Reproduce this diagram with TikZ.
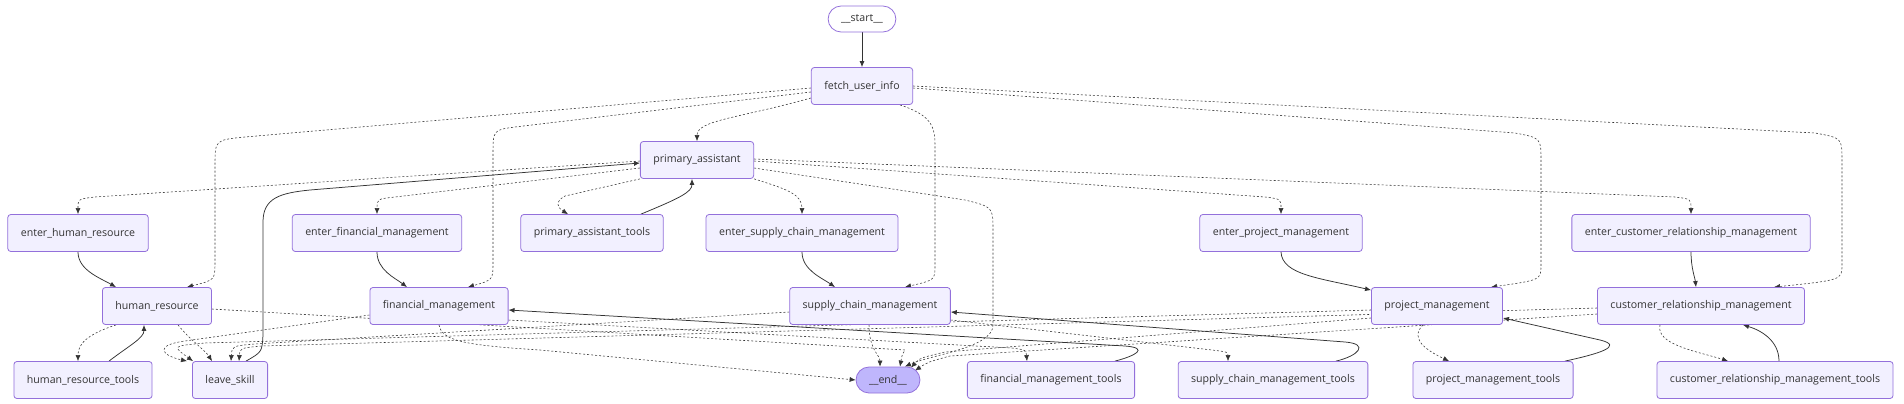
\documentclass[tikz,border=0pt]{standalone}
\usepackage{fontspec}
\setmainfont{Open Sans}
\usetikzlibrary{arrows.meta,backgrounds}
\definecolor{nodefill}{HTML}{F2F0FF}
\definecolor{nodeline}{HTML}{9370DB}
\definecolor{endfill}{HTML}{BFB6FC}
\definecolor{linecol}{HTML}{333333}

\begin{document}
\begin{tikzpicture}[
  x=1pt, y=-1pt,
  box/.style={rectangle,rounded corners=3pt,draw=nodeline,fill=nodefill,line width=0.8pt,
    minimum height=37pt,inner xsep=13pt,font=\fontsize{10.6}{13}\selectfont,text=linecol},
  term/.style={box,rounded corners=13pt,minimum height=26pt},
  flow/.style={draw=linecol,line width=0.75pt,-{Latex[length=6pt,width=5pt]}},
  cond/.style={flow,line width=0.55pt,dash pattern=on 2pt off 2pt}
]
  \useasboundingbox (0,0) rectangle (1904,404);

  \node[term,fill=white] (start) at (862,19) {\_\_start\_\_};
  \node[box] (fetch)  at (862,86)  {fetch\_user\_info};
  \node[box] (prim)   at (697,160) {primary\_assistant};
  \node[box] (ehr)    at (78,233)   {enter\_human\_resource};
  \node[box] (efm)    at (377,233)  {enter\_financial\_management};
  \node[box] (ptools) at (592,233)  {primary\_assistant\_tools};
  \node[box] (escm)   at (802,233)  {enter\_supply\_chain\_management};
  \node[box] (epm)    at (1281,233) {enter\_project\_management};
  \node[box] (ecrm)   at (1691,233) {enter\_customer\_relationship\_management};
  \node[box] (hr)     at (157,306)  {human\_resource};
  \node[box] (fm)     at (439,306)  {financial\_management};
  \node[box] (scm)    at (870,306)  {supply\_chain\_management};
  \node[box] (pm)     at (1437,306) {project\_management};
  \node[box] (crm)    at (1701,306) {customer\_relationship\_management};
  \node[box] (hrt)    at (83,380)   {human\_resource\_tools};
  \node[box] (leave)  at (230,380)  {leave\_skill};
  \node[term,fill=endfill] (stop) at (888,380) {\_\_end\_\_};
  \node[box] (fmt)    at (1051,380) {financial\_management\_tools};
  \node[box] (scmt)   at (1273,380) {supply\_chain\_management\_tools};
  \node[box] (pmt)    at (1493,380) {project\_management\_tools};
  \node[box] (crmt)   at (1775,380) {customer\_relationship\_management\_tools};

  \begin{scope}[on background layer]
    \fill[white] (0,0) rectangle (1904,404);
    \draw[flow] (start) -- (fetch);
    % fetch_user_info
    \draw[cond] ([yshift=-12pt]fetch.west) .. controls (740,118) and (697,120) .. (prim.north);
    \draw[cond] ([yshift=-2pt]fetch.west) -- (245,137) .. controls (215,140) .. (215,165) -- (215,262) .. controls (215,280) .. ([xshift=30pt]hr.north);
    \draw[cond] ([yshift=-6pt]fetch.west) -- (515,127) .. controls (493,130) .. (493,155) -- (493,262) .. controls (493,280) .. ([xshift=29pt]fm.north);
    \draw[cond] ([xshift=38pt]fetch.south) .. controls (930,115) and (935,125) .. (935,145) -- (935,265) .. controls (935,280) .. ([xshift=35pt]scm.north);
    \draw[cond] ([yshift=-2pt]fetch.east) -- (1515,133) .. controls (1541,138) .. (1541,160) -- (1541,265) .. controls (1541,280) .. ([xshift=54pt]pm.north);
    \draw[cond] (fetch.east) -- (1815,133) .. controls (1842,138) .. (1842,160) -- (1842,265) .. controls (1842,280) .. ([xshift=73pt]crm.north);
    % primary_assistant
    \draw[cond] ([yshift=-1pt]prim.west) -- (95,197) .. controls (78,199) .. (ehr.north);
    \draw[cond] ([yshift=-8pt]prim.west) -- (395,197) .. controls (377,199) .. (efm.north);
    \draw[cond] (prim.south west) -- (565,196) .. controls (554,202) and (558,208) .. ([xshift=-24pt]ptools.north);
    \draw[cond] (prim.south east) .. controls (790,190) and (802,195) .. (escm.north);
    \draw[cond] ([yshift=-1pt]prim.east) -- (1265,197) .. controls (1281,199) .. (epm.north);
    \draw[cond] ([yshift=1pt]prim.east) -- (1675,197) .. controls (1691,199) .. (ecrm.north);
    \draw[cond] ([yshift=-8pt]prim.east) -- (965,200) .. controls (993,207) .. (993,230) -- (993,325) .. controls (993,348) and (930,355) .. ([xshift=17pt]stop.north);
    % back to primary_assistant
    \draw[flow] ([xshift=49pt]ptools.north) .. controls (680,198) and (692,192) .. ([xshift=-5pt]prim.south);
    \draw[flow] ([xshift=16pt]leave.north) .. controls (262,352) .. (263,335) -- (263,222) .. controls (263,198) and (280,193) .. (310,190) -- ([yshift=-3pt]prim.west);
    % enter_* into the skills
    \draw[flow] (ehr.south) .. controls (78,270) and (100,278) .. ([xshift=-41pt]hr.north);
    \draw[flow] (efm.south) .. controls (377,270) and (395,278) .. ([xshift=-32pt]fm.north);
    \draw[flow] (escm.south) .. controls (802,270) and (822,278) .. ([xshift=-35pt]scm.north);
    \draw[flow] (epm.south) .. controls (1282,275) and (1320,278) .. ([yshift=-3pt]pm.north west);
    \draw[flow] (ecrm.south) .. controls (1691,268) and (1695,278) .. ([xshift=-5pt]crm.north);
    % tools back to the skills
    \draw[flow] ([xshift=26pt]hrt.north) .. controls (130,345) and (144,338) .. ([xshift=-13pt]hr.south);
    \draw[flow] ([xshift=64pt]fmt.north) .. controls (1135,356) and (1150,348) .. (1125,346) -- ([yshift=-4pt]fm.east);
    \draw[flow] ([xshift=63pt]scmt.north) .. controls (1358,356) and (1370,344) .. (1345,342) -- ([yshift=-6pt]scm.east);
    \draw[flow] ([xshift=72pt]pmt.north) .. controls (1598,354) and (1625,346) .. (1600,340) -- ([yshift=-12pt]pm.east);
    \draw[flow] ([xshift=4pt]crmt.north) .. controls (1779,340) and (1760,330) .. ([xshift=42pt]crm.south);
    % human_resource
    \draw[cond] ([xshift=-41pt]hr.south) .. controls (85,335) and (78,345) .. ([xshift=-5pt]hrt.north);
    \draw[cond] ([xshift=21pt]hr.south) .. controls (190,340) and (205,350) .. ([xshift=-18pt]leave.north);
    \draw[cond] ([yshift=-3pt]hr.east) -- (905,350) .. controls (902,355) .. ([xshift=12pt]stop.north);
    % financial_management
    \draw[cond] ([yshift=-9pt]fm.west) -- (185,341) .. controls (155,345) and (160,355) .. ([xshift=-43pt]leave.north);
    \draw[cond] ([yshift=-14pt]fm.east) -- (1012,348) .. controls (1026,350) .. ([xshift=-24pt]fmt.north);
    \draw[cond] (fm.south) .. controls (442,340) and (460,345) .. (540,350) -- (stop.west);
    % supply_chain_management
    \draw[cond] ([yshift=-6pt]scm.west) -- (255,344) .. controls (232,346) .. ([xshift=1pt]leave.north);
    \draw[cond] ([yshift=-14pt]scm.east) -- (1212,350) .. controls (1228,352) .. ([xshift=-45pt]scmt.north);
    \draw[cond] ([xshift=-1pt]scm.south) .. controls (869,350) and (880,355) .. ([xshift=-8pt]stop.north);
    % project_management
    \draw[cond] ([xshift=-14pt]pm.south) .. controls (1408,340) and (1430,352) .. ([xshift=-44pt]pmt.north);
    \draw[cond] ([yshift=-4pt]pm.west) -- (205,343) .. controls (172,346) .. ([xshift=-37pt]leave.north);
    \draw[cond] ([yshift=-12pt]pm.west) -- (945,352) .. controls (920,358) .. ([xshift=23pt,yshift=-1pt]stop.north);
    % customer_relationship_management
    \draw[cond] ([xshift=-41pt]crm.south) .. controls (1655,345) and (1700,352) .. ([xshift=-47pt]crmt.north);
    \draw[cond] ([yshift=-2pt]crm.west) -- (262,346) .. controls (240,348) .. ([xshift=9pt]leave.north);
    \draw[cond] ([yshift=-8pt]crm.west) -- (950,356) .. controls (928,362) .. ([xshift=27pt,yshift=-4pt]stop.north);
  \end{scope}
\end{tikzpicture}
\end{document}
